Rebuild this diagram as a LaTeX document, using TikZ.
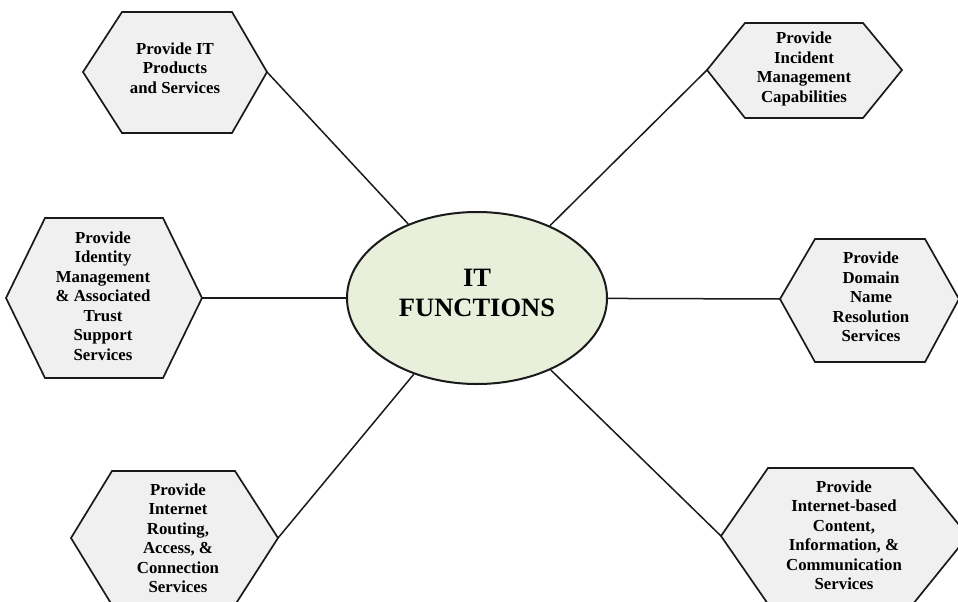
\documentclass[tikz,border=0pt]{standalone}
\usepackage{fontspec}
\setmainfont{Liberation Serif}
\usetikzlibrary{shapes.geometric}
\definecolor{hexfill}{HTML}{F0F0F0}
\definecolor{ellfill}{HTML}{E8F0DC}
\definecolor{edge}{HTML}{1A1A1A}
\begin{document}
\begin{tikzpicture}[x=1pt,y=-1pt,
  hexa/.style={draw=edge, line width=1.7pt, fill=hexfill, line join=miter},
  lbl/.style={align=center, inner sep=0pt, font=\bfseries\fontsize{16.8}{19.5}\selectfont},
  ell/.style={ellipse, draw=edge, line width=2pt, fill=ellfill, minimum width=260pt, minimum height=172pt, inner sep=0pt},
  elbl/.style={align=center, inner sep=0pt, font=\bfseries\fontsize{26.5}{30}\selectfont},
  conn/.style={draw=edge, line width=1.5pt}]
\clip (0,0) rectangle (958,602);
\useasboundingbox (0,0) rectangle (958,602);
\fill[white] (0,0) rectangle (958,602);

% centre
\node[ell] (fn) at (477,298) {};
\node[elbl] (fnt) at (477,293) {IT\\FUNCTIONS};

% hexagon 1: top left
\path[hexa] (83,72) coordinate (h1w) -- (122,12) -- (232,12) -- (267,72) coordinate (h1e) -- (232,133) -- (122,133) -- cycle;
\node[lbl] (t1) at (175,68) {Provide IT\\Products\\and Services};

% hexagon 2: top right
\path[hexa] (707,70) coordinate (h2w) -- (745,23) -- (863,23) -- (902,70) coordinate (h2e) -- (863,118) -- (745,118) -- cycle;
\node[lbl] (t2) at (804,69) {Provide\\Incident\\Management\\Capabilities};

% hexagon 3: middle left
\path[hexa] (6,298) coordinate (h3w) -- (45,218) -- (163,218) -- (202,298) coordinate (h3e) -- (163,378) -- (45,378) -- cycle;
\node[lbl] (t3) at (103,296) {Provide\\Identity\\Management\\\& Associated\\Trust\\Support\\Services};

% hexagon 4: middle right
\path[hexa] (780,299) coordinate (h4w) -- (815,239) -- (925,239) -- (959,299) coordinate (h4e) -- (925,362) -- (815,362) -- cycle;
\node[lbl] (t4) at (871,297) {Provide\\Domain\\Name\\Resolution\\Services};

% hexagon 5: bottom left
\path[hexa] (71,538) coordinate (h5w) -- (112,471) -- (235,471) -- (278,538) coordinate (h5e) -- (235,605) -- (112,605) -- cycle;
\node[lbl] (t5) at (178,538) {Provide\\Internet\\Routing,\\Access, \&\\Connection\\Services};

% hexagon 6: bottom right
\path[hexa] (721,536) coordinate (h6w) -- (768,468) -- (913,468) -- (968,536) coordinate (h6e) -- (913,604) -- (768,604) -- cycle;
\node[lbl] (t6) at (844,535) {Provide\\Internet-based\\Content,\\Information, \&\\Communication\\Services};

% connectors
\draw[conn] (h1e) -- (fn);
\draw[conn] (h2w) -- (fn);
\draw[conn] (h3e) -- (fn);
\draw[conn] (h4w) -- (fn);
\draw[conn] (h5e) -- (fn);
\draw[conn] (h6w) -- (fn);
\end{tikzpicture}
\end{document}
